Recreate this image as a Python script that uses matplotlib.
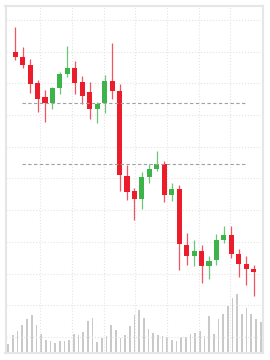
import matplotlib
matplotlib.use("Agg")
import matplotlib.pyplot as plt
import numpy as np

# свечи (OHLC)
opens = [58.00, 57.68, 57.15, 56.03, 55.12, 54.74, 55.71, 56.59, 56.95, 56.11, 55.44,
         54.40, 54.78, 56.15, 55.52, 50.18, 49.21, 48.69, 50.11, 50.62, 50.90, 48.94,
         49.32, 45.82, 45.13, 45.43, 44.48, 44.86, 46.12, 46.44, 45.22, 44.59, 44.27]
highs = [59.58, 58.32, 57.52, 56.21, 55.58, 55.80, 56.74, 58.36, 57.41, 56.47, 56.07,
         54.85, 56.51, 58.53, 55.94, 50.85, 49.38, 50.39, 50.91, 51.75, 51.10, 49.70,
         49.59, 46.54, 46.12, 45.80, 45.13, 46.48, 47.02, 47.02, 45.55, 45.13, 44.54]
lows = [57.48, 57.00, 55.39, 54.20, 53.58, 54.37, 55.33, 56.38, 55.33, 54.70, 53.74,
        53.48, 54.11, 55.00, 49.23, 48.64, 47.38, 48.06, 49.70, 50.47, 48.54, 48.58,
        44.23, 44.54, 44.50, 43.43, 43.64, 44.54, 45.91, 44.97, 43.80, 43.28, 42.61]
closes = [57.68, 57.19, 55.99, 55.03, 54.78, 55.71, 56.57, 56.95, 56.01, 55.22, 54.39,
          54.72, 56.13, 55.54, 50.22, 49.17, 48.69, 50.08, 50.60, 50.90, 48.96, 49.32,
          45.85, 45.13, 45.43, 44.50, 44.81, 46.12, 46.44, 45.22, 44.59, 44.27, 44.13]

# объём
volume = [930, 1770, 2230, 2770, 3430, 3770, 2770, 1900, 1300, 1170, 1030, 1170, 1170,
          1300, 1930, 1830, 2100, 3230, 3500, 1100, 1500, 1670, 2770, 2330, 1500, 1830,
          2730, 3830, 4330, 3500, 2400, 2000, 1830, 1670, 1570, 1270, 1170, 1570, 1570,
          1900, 2000, 2230, 1670, 3730, 1900, 3430, 3930, 4670, 5500, 5900, 3900, 4500,
          3930, 3400, 3070]

# уровни
levels = [54.74, 50.91]
level_start, level_end = 0.9, 31.1

up_color = "#3cb44a"
down_color = "#ec1c2b"

fig = plt.figure(figsize=(2.7, 3.6), dpi=100)
rect = [5.5 / 270, 7 / 360, 257.5 / 270, 347.5 / 360]

# объём на отдельных осях
axv = fig.add_axes(rect)
xv = np.arange(len(volume))
axv.bar(xv, volume, width=0.36, color="#c9c9c9", zorder=2)
axv.set_xlim(-0.6, 54.5)
axv.set_ylim(0, 34750)
axv.axis("off")

ax = fig.add_axes(rect)
ax.patch.set_alpha(0)
x = np.arange(len(opens))
colors = [up_color if c >= o else down_color for o, c in zip(opens, closes)]
ax.vlines(x, lows, highs, colors=colors, linewidth=0.9, alpha=0.75, zorder=3)
bottoms = np.minimum(opens, closes)
heights = np.abs(np.array(closes) - np.array(opens))
ax.bar(x, heights, bottom=bottoms, width=0.68, color=colors, zorder=4)

for lv in levels:
    ax.hlines(lv, level_start, level_end, colors="#a0a0a0", linewidth=0.8,
              linestyle=(0, (3, 2.2)), zorder=5)

ax.set_xlim(-1.3, 33.25)
ax.set_ylim(38.99, 60.915)

# сетка
ax.set_xticks(3.35 + 4.25 * np.arange(7))
ax.set_yticks(np.arange(40, 61, 2))
ax.grid(True, color="#e4e4e4", linestyle=":", linewidth=0.8, zorder=0)
ax.tick_params(left=False, bottom=False, labelleft=False, labelbottom=False)
for s in ax.spines.values():
    s.set_color("#e6e6e6")
    s.set_linewidth(1.5)

fig.savefig("out.png", dpi=100)
